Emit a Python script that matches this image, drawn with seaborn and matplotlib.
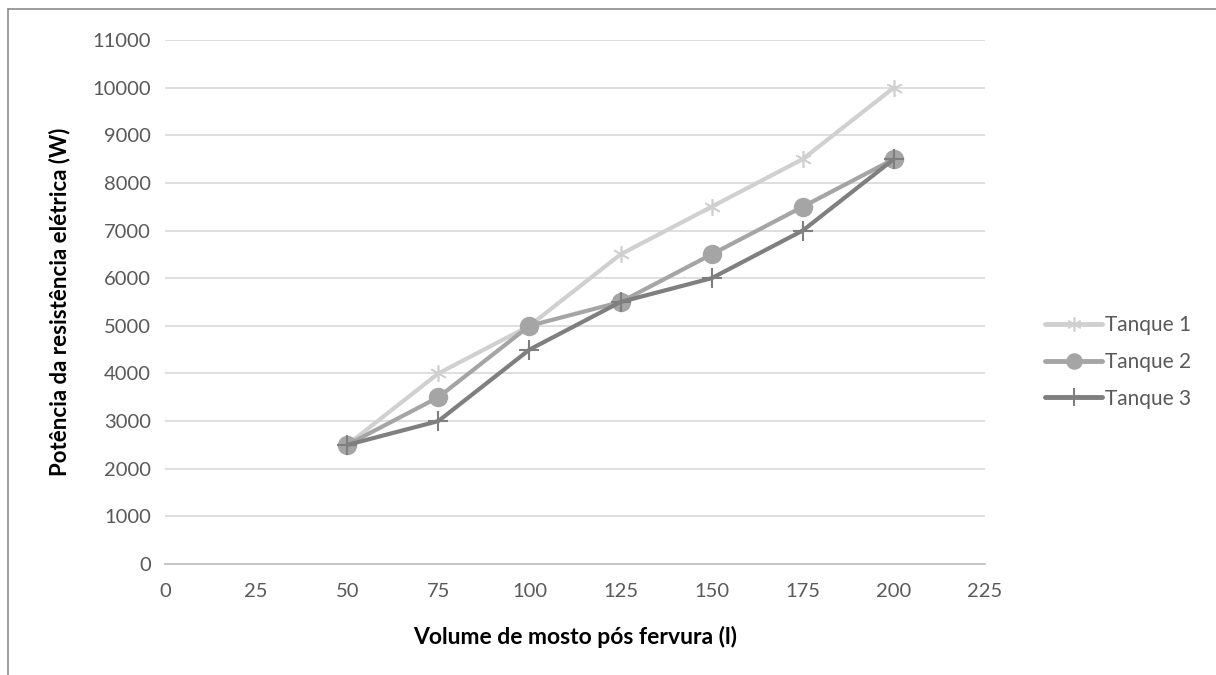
import matplotlib
matplotlib.use("Agg")
import matplotlib.pyplot as plt
import seaborn as sns
import pandas as pd
from matplotlib.lines import Line2D

volumes = [50, 75, 100, 125, 150, 175, 200]
tanque1 = [2500, 4000, 5000, 6500, 7500, 8500, 10000]
tanque2 = [2500, 3500, 5000, 5500, 6500, 7500, 8500]
tanque3 = [2500, 3000, 4500, 5500, 6000, 7000, 8500]
series_names = ["Tanque 1", "Tanque 2", "Tanque 3"]
x_ticks = [0, 25, 50, 75, 100, 125, 150, 175, 200, 225]
y_ticks = list(range(0, 11001, 1000))

sns.set_theme(style="white")
plt.rcParams['font.family'] = ['Lato', 'DejaVu Sans']

fig = plt.figure(figsize=(12.16, 6.75), dpi=100)
ax = fig.add_axes([165/1216, 1-564/675, (985-165)/1216, (564-40)/675])

colors = ["#D0D0D0", "#A5A5A5", "#7F7F7F"]
markers = [(6, 2, 0), "o", "+"]
msizes = [12, 14, 15]
mews = [1.2, 0, 1.5]
data = [tanque1, tanque2, tanque3]

for name, vals, c, m, ms, mew in zip(series_names, data, colors, markers, msizes, mews):
    df = pd.DataFrame({"x": volumes, "y": vals})
    sns.lineplot(data=df, x="x", y="y", ax=ax, color=c, linewidth=3.0,
                 marker=m, markersize=ms, markeredgewidth=mew,
                 markeredgecolor=c, markerfacecolor=c, label=name)

ax.set_xlim(0, 225)
ax.set_ylim(0, 11000)
ax.set_xticks(x_ticks)
ax.set_yticks(y_ticks)
ax.tick_params(axis='both', labelsize=14.5, labelcolor="#595959", length=0)
ax.tick_params(axis='x', pad=14)
ax.tick_params(axis='y', pad=10)
ax.yaxis.grid(True, color="#D9D9D9", linewidth=1.2)
ax.xaxis.grid(False)
for s in ["top", "right", "left"]:
    ax.spines[s].set_visible(False)
ax.spines["bottom"].set_color("#BFBFBF")
ax.spines["bottom"].set_linewidth(1.2)

ax.set_xlabel("Volume de mosto pós fervura (l)", fontsize=16.5, fontweight="bold", color="black", labelpad=18)
ax.set_ylabel("Potência da resistência elétrica (W)", fontsize=16, fontweight="bold", color="black", labelpad=16)

handles = [Line2D([0], [0], color=c, lw=3.5, marker=m, markersize=ms * 0.85, markeredgewidth=mew,
                  markeredgecolor=c, markerfacecolor=c, solid_capstyle='round')
           for c, m, ms, mew in zip(colors, markers, msizes, mews)]
ax.legend(handles, series_names, loc="center left", bbox_to_anchor=(1045/1216, 1-362/675),
          bbox_transform=fig.transFigure, frameon=False, fontsize=15, labelcolor="#595959",
          handlelength=2.75, handletextpad=0.15, labelspacing=0.8, borderpad=0, borderaxespad=0)

# outer frame (top and left)
fig.add_artist(Line2D([8/1216, 1], [1-9/675, 1-9/675], transform=fig.transFigure, color="#8C8C8C", lw=1.2))
fig.add_artist(Line2D([8/1216, 8/1216], [0, 1-9/675], transform=fig.transFigure, color="#8C8C8C", lw=1.2))

fig.savefig("out.png", dpi=100, facecolor="white")
